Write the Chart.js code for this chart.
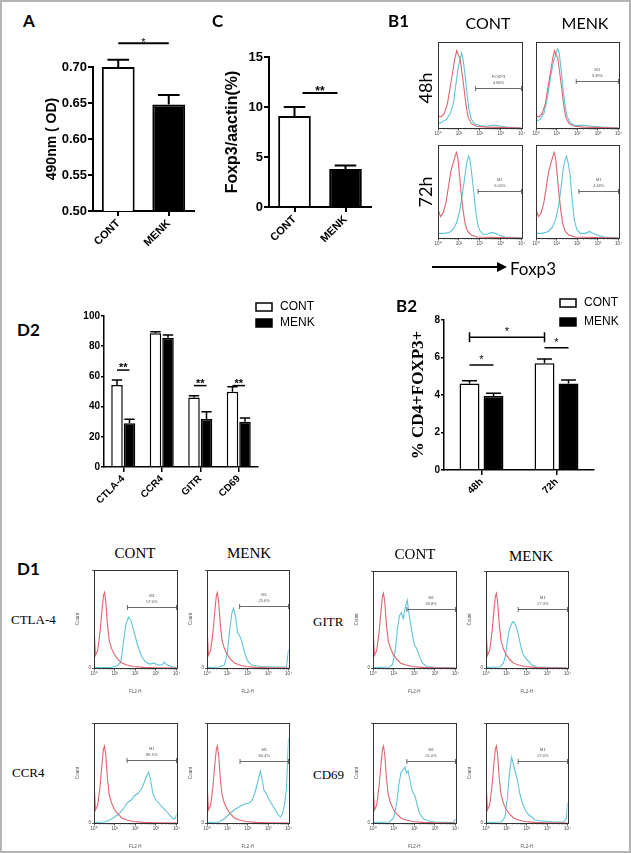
<!DOCTYPE html>
<html>
<head>
<meta charset="utf-8">
<script src="https://cdn.jsdelivr.net/npm/chart.js@4.4.1/dist/chart.umd.min.js"></script>
<style>
  body { margin: 0; background: #fff; }
  #figure { position: relative; width: 631px; height: 853px; overflow: hidden; background: #fff; }
  #frame { position: absolute; left: 0; top: 0; width: 627px; height: 849px; border: 2px solid #b4b4b4; }
  canvas { position: absolute; }
  .txt { position: absolute; white-space: nowrap; color: #000; line-height: 1; }
  .arrow-line { position: absolute; left: 432px; top: 266px; width: 66px; height: 2px; background: #000; }
  .arrow-head { position: absolute; left: 497px; top: 262px; width: 0; height: 0;
    border-top: 5px solid transparent; border-bottom: 5px solid transparent; border-left: 10px solid #000; }
</style>
</head>
<body>
<div id="figure"><div id="frame"></div><div class="arrow-line"></div><div class="arrow-head"></div></div>
<script>
//********************************************************************************
/// Data
//********************************************************************************
// A - 490nm OD
const groupLabels = ['CONT', 'MENK'];
const odMeans = [0.700, 0.648];
const odErrors = [0.010, 0.013];

// C - Foxp3/actin
const foxp3Means = [9.1, 3.8];
const foxp3Errors = [0.9, 0.35];

// B2 - % CD4+FOXP3+
const timeLabels = ['48h', '72h'];
const tregCont = [4.62, 5.69];
const tregContErr = [0.14, 0.23];
const tregMenk = [3.95, 4.62];
const tregMenkErr = [0.14, 0.18];

// D2 - surface markers
const markerLabels = ['CTLA-4', 'CCR4', 'GITR', 'CD69'];
const markerCont = [54.3, 88.5, 46.1, 49.9];
const markerContErr = [3.3, 1.1, 1.1, 3.3];
const markerMenk = [28.9, 85.6, 31.8, 30.0];
const markerMenkErr = [2.7, 1.8, 4.8, 2.4];

// histogram x ticks (log decades)
const logTickLabels = ['10\u2070', '10\u00b9', '10\u00b2', '10\u00b3', '10\u2074'];

// B1 histograms: [decade, fraction of box height]
const isotype48h = [[0,0],[0,0.98],[0.02,0.14],[0.15,0.13],[0.3,0.17],[0.45,0.28],[0.6,0.5],[0.72,0.68],[0.82,0.82],[0.9,0.9],[0.98,0.84],[1.05,0.82],[1.15,0.64],[1.25,0.45],[1.35,0.25],[1.45,0.12],[1.6,0.05],[1.85,0.02],[2.3,0.01],[4,0]];
const foxp3Cont48h = [[0,0.05],[0.2,0.07],[0.4,0.1],[0.6,0.17],[0.75,0.3],[0.88,0.55],[0.98,0.72],[1.08,0.82],[1.13,0.87],[1.2,0.8],[1.28,0.65],[1.38,0.42],[1.48,0.22],[1.6,0.1],[1.75,0.05],[2.0,0.03],[2.3,0.02],[2.6,0.03],[2.8,0.03],[3.0,0.02],[3.3,0.01],[3.6,0.005],[4,0]];
const foxp3Menk48h = [[0,0.08],[0.2,0.1],[0.4,0.18],[0.55,0.35],[0.7,0.58],[0.85,0.78],[0.95,0.85],[1.05,0.92],[1.12,0.88],[1.2,0.72],[1.3,0.48],[1.4,0.28],[1.5,0.14],[1.65,0.06],[1.9,0.03],[2.3,0.03],[2.7,0.02],[3.2,0.01],[4,0]];
const isotype72h = [[0,0],[0,0.97],[0.03,0.3],[0.12,0.23],[0.25,0.27],[0.38,0.38],[0.5,0.55],[0.62,0.72],[0.72,0.8],[0.82,0.88],[0.88,0.92],[0.95,0.86],[1.02,0.7],[1.1,0.5],[1.2,0.3],[1.3,0.15],[1.42,0.07],[1.6,0.03],[1.9,0.01],[4,0]];
const foxp3Cont72h = [[0,0.05],[0.3,0.05],[0.55,0.06],[0.75,0.1],[0.9,0.17],[1.05,0.3],[1.15,0.45],[1.28,0.65],[1.38,0.82],[1.47,0.88],[1.52,0.85],[1.6,0.72],[1.7,0.52],[1.8,0.3],[1.9,0.15],[2.0,0.08],[2.15,0.04],[2.35,0.04],[2.55,0.06],[2.75,0.05],[2.95,0.03],[3.2,0.01],[4,0]];
const foxp3Menk72h = [[0,0.05],[0.3,0.05],[0.6,0.07],[0.8,0.12],[0.95,0.2],[1.1,0.35],[1.22,0.55],[1.32,0.75],[1.42,0.85],[1.48,0.88],[1.55,0.82],[1.65,0.68],[1.75,0.42],[1.85,0.2],[1.98,0.09],[2.15,0.05],[2.4,0.05],[2.6,0.07],[2.75,0.05],[3,0.03],[3.3,0.01],[4,0]];

// B1 gates: [start decade, height, name, % positive]
const gateCont48h = [1.8, 0.47, 'FOXP3', '4.86%'];
const gateMenk48h = [1.95, 0.55, 'M1', '3.39%'];
const gateCont72h = [1.92, 0.51, 'M1', '6.00%'];
const gateMenk72h = [2.08, 0.51, 'M1', '4.64%'];

// D1 histograms
const d1Isotype = [[0,0],[0,0.42],[0.07,0.13],[0.18,0.18],[0.3,0.38],[0.4,0.62],[0.46,0.74],[0.51,0.77],[0.57,0.68],[0.65,0.45],[0.74,0.28],[0.85,0.2],[0.98,0.14],[1.15,0.09],[1.35,0.05],[1.6,0.03],[1.9,0.015],[2.4,0.006],[3,0.003],[4,0]];
const ctla4Cont = [[0,0.005],[0.8,0.005],[1.1,0.02],[1.3,0.06],[1.42,0.25],[1.55,0.45],[1.68,0.52],[1.8,0.48],[1.95,0.36],[2.1,0.24],[2.3,0.12],[2.5,0.06],[2.7,0.04],[2.9,0.05],[3.1,0.03],[3.3,0.03],[3.4,0.06],[3.55,0.03],[3.8,0.01],[4,0.005]];
const ctla4Menk = [[0,0.005],[0.6,0.01],[0.85,0.03],[1.0,0.15],[1.12,0.4],[1.22,0.56],[1.3,0.61],[1.4,0.52],[1.5,0.36],[1.58,0.34],[1.7,0.28],[1.85,0.15],[2.0,0.07],[2.2,0.03],[2.6,0.015],[3.2,0.01],[3.9,0.01],[4,0.19]];
const gitrCont = [[0,0.005],[0.8,0.01],[0.95,0.04],[1.08,0.18],[1.18,0.4],[1.28,0.54],[1.37,0.57],[1.47,0.51],[1.56,0.62],[1.66,0.7],[1.75,0.55],[1.88,0.38],[2.0,0.24],[2.12,0.2],[2.25,0.12],[2.4,0.05],[2.6,0.015],[3,0.005],[4,0]];
const gitrMenk = [[0,0.005],[0.7,0.01],[0.85,0.05],[0.95,0.12],[1.05,0.28],[1.15,0.4],[1.27,0.46],[1.35,0.48],[1.45,0.44],[1.55,0.38],[1.68,0.25],[1.8,0.15],[1.95,0.1],[2.08,0.07],[2.25,0.03],[2.5,0.01],[4,0]];
const ccr4Cont = [[0,0.005],[0.5,0.01],[0.76,0.03],[1.0,0.06],[1.25,0.1],[1.45,0.15],[1.6,0.2],[1.8,0.23],[1.95,0.27],[2.15,0.3],[2.3,0.34],[2.42,0.4],[2.55,0.47],[2.65,0.51],[2.75,0.42],[2.85,0.3],[2.97,0.24],[3.1,0.21],[3.3,0.16],[3.5,0.12],[3.7,0.07],[3.85,0.04],[3.95,0.05],[4,0.09]];
const ccr4Menk = [[0,0.005],[0.6,0.01],[0.9,0.05],[1.15,0.1],[1.4,0.14],[1.65,0.17],[1.85,0.19],[2.05,0.2],[2.2,0.22],[2.35,0.3],[2.5,0.42],[2.62,0.52],[2.72,0.42],[2.8,0.32],[2.9,0.3],[3.0,0.25],[3.15,0.2],[3.35,0.13],[3.5,0.08],[3.6,0.06],[3.7,0.09],[3.8,0.18],[3.9,0.35],[4,0.85]];
const cd69Cont = [[0,0.005],[0.8,0.01],[1.0,0.05],[1.15,0.2],[1.25,0.38],[1.35,0.5],[1.45,0.53],[1.55,0.56],[1.62,0.5],[1.7,0.52],[1.8,0.42],[1.9,0.32],[2.02,0.28],[2.12,0.2],[2.25,0.1],[2.45,0.04],[2.7,0.02],[3,0.01],[3.9,0.005],[4,0.04]];
const cd69Menk = [[0,0.005],[0.75,0.01],[0.93,0.06],[1.05,0.25],[1.15,0.5],[1.26,0.66],[1.35,0.58],[1.45,0.5],[1.55,0.42],[1.65,0.3],[1.78,0.2],[1.95,0.12],[2.1,0.08],[2.25,0.06],[2.4,0.03],[2.7,0.02],[2.9,0.02],[3.3,0.01],[3.8,0.01],[3.95,0.05],[4,0.2]];

// D1 gates
const gateCtla4Cont = [1.62, 0.62, 'M1', '57.0%'];
const gateCtla4Menk = [1.6, 0.63, 'M1', '25.6%'];
const gateGitrCont = [1.64, 0.61, 'M1', '49.8%'];
const gateGitrMenk = [1.58, 0.61, 'M1', '27.3%'];
const gateCcr4Cont = [1.6, 0.63, 'M1', '88.5%'];
const gateCcr4Menk = [1.62, 0.62, 'M1', '84.4%'];
const gateCd69Cont = [1.64, 0.62, 'M1', '51.0%'];
const gateCd69Menk = [1.58, 0.62, 'M1', '27.0%'];

//********************************************************************************
/// Helpers
//********************************************************************************
const SANS = "'Liberation Sans', Arial, sans-serif";
const SERIF = "'Liberation Serif', 'Times New Roman', serif";
const CALI = "Lato, 'Liberation Sans', sans-serif";
const RED = '#e0646f';
const CYAN = '#5ec4d9';

Chart.defaults.font.family = SANS;
Chart.defaults.color = '#000';

const figure = document.getElementById('figure');

function addCanvas(box) {
    const c = document.createElement('canvas');
    const w = box[2] - box[0], h = box[3] - box[1];
    c.width = w; c.height = h;
    c.style.left = box[0] + 'px'; c.style.top = box[1] + 'px';
    c.style.width = w + 'px'; c.style.height = h + 'px';
    figure.appendChild(c);
    return c;
}

function addText(str, x, y, font, align, rotate) {
    const d = document.createElement('div');
    d.className = 'txt';
    d.textContent = str;
    d.style.font = font;
    d.style.left = x + 'px';
    d.style.top = y + 'px';
    const tx = align === 'center' ? '-50%' : '0';
    d.style.transform = `translate(${tx}, -50%)` + (rotate ? ` rotate(${rotate}deg)` : '');
    figure.appendChild(d);
}

// canvas box and plot rect, both [x0, y0, x1, y1] in page px
function pin(box, plot) {
    return {
        padding: { left: 0, top: plot[1] - box[1], right: box[2] - plot[2], bottom: 0 },
        yWidth: plot[0] - box[0],
        xHeight: box[3] - plot[3]
    };
}

function errorBars(lineWidth, capRatio) {
    return {
        id: 'errorBars',
        afterDatasetsDraw(chart) {
            const ctx = chart.ctx, y = chart.scales.y;
            chart.data.datasets.forEach((ds, i) => {
                if (!ds.errors) return;
                chart.getDatasetMeta(i).data.forEach((bar, j) => {
                    const top = y.getPixelForValue(ds.data[j] + ds.errors[j]);
                    const half = bar.width * capRatio / 2;
                    ctx.save();
                    ctx.strokeStyle = '#000';
                    ctx.lineWidth = lineWidth;
                    ctx.beginPath();
                    ctx.moveTo(bar.x, bar.y); ctx.lineTo(bar.x, top);
                    ctx.moveTo(bar.x - half, top); ctx.lineTo(bar.x + half, top);
                    ctx.stroke();
                    ctx.restore();
                });
            });
        }
    };
}

function sigMarks(marks, font, lineWidth, lift) {
    return {
        id: 'sigMarks',
        afterDraw(chart) {
            const ctx = chart.ctx, y = chart.scales.y;
            marks.forEach(m => {
                const a = chart.getDatasetMeta(m.from[0]).data[m.from[1]];
                const b = chart.getDatasetMeta(m.to[0]).data[m.to[1]];
                const inset = m.inset || 0;
                const x0 = a.x + inset, x1 = b.x - inset;
                const yy = y.getPixelForValue(m.y);
                ctx.save();
                ctx.strokeStyle = '#000';
                ctx.lineWidth = lineWidth;
                ctx.beginPath();
                ctx.moveTo(x0, yy); ctx.lineTo(x1, yy);
                if (m.caps) {
                    ctx.moveTo(x0, yy - 5); ctx.lineTo(x0, yy + 5);
                    ctx.moveTo(x1, yy - 5); ctx.lineTo(x1, yy + 5);
                }
                ctx.stroke();
                ctx.fillStyle = '#000';
                ctx.font = font;
                ctx.textAlign = 'center';
                ctx.textBaseline = 'alphabetic';
                ctx.fillText(m.text, (x0 + x1) / 2, yy + lift);
                ctx.restore();
            });
        }
    };
}

function boxLegend(x, y, step) {
    return {
        id: 'boxLegend',
        afterDraw(chart) {
            const ctx = chart.ctx;
            chart.data.datasets.forEach((ds, i) => {
                const top = y + i * step;
                ctx.save();
                ctx.fillStyle = ds.backgroundColor;
                ctx.fillRect(x, top, 16, 8);
                ctx.strokeStyle = '#000';
                ctx.lineWidth = 1.5;
                ctx.strokeRect(x, top, 16, 8);
                ctx.fillStyle = '#000';
                ctx.font = `12px ${SANS}`;
                ctx.textBaseline = 'middle';
                ctx.fillText(ds.label, x + 24, top + 4);
                ctx.restore();
            });
        }
    };
}

function barPanel(box, plot, cfg) {
    const p = pin(box, plot);
    const plugins = [errorBars(cfg.lineWidth, cfg.capRatio), sigMarks(cfg.marks, cfg.starFont, cfg.lineWidth, cfg.starLift)];
    if (cfg.legend) plugins.push(boxLegend(cfg.legend[0] - box[0], cfg.legend[1] - box[1], cfg.legend[2]));
    return new Chart(addCanvas(box), {
        type: 'bar',
        data: { labels: cfg.labels, datasets: cfg.datasets },
        plugins: plugins,
        options: {
            responsive: false,
            animation: false,
            layout: { padding: p.padding },
            plugins: { legend: { display: false }, tooltip: { enabled: false } },
            scales: {
                x: {
                    grid: { offset: false, drawOnChartArea: false, tickLength: 5, color: '#000', lineWidth: cfg.lineWidth },
                    border: { color: '#000', width: cfg.lineWidth },
                    ticks: { font: cfg.xFont, color: '#000', minRotation: 45, maxRotation: 45, autoSkip: false, padding: 1 },
                    afterFit: s => { s.height = p.xHeight; }
                },
                y: {
                    min: cfg.yMin, max: cfg.yMax,
                    grid: { drawOnChartArea: false, tickLength: cfg.tickLength, color: '#000', lineWidth: cfg.lineWidth },
                    border: { color: '#000', width: cfg.lineWidth },
                    ticks: { stepSize: cfg.yStep, font: cfg.yFont, color: '#000', padding: 1, callback: cfg.yFormat },
                    title: cfg.yTitle || { display: false },
                    afterFit: s => { s.width = p.yWidth; }
                }
            }
        }
    });
}

function histFrame(gate) {
    return {
        id: 'histFrame',
        afterDraw(chart) {
            const { ctx, chartArea: a, scales: { x, y } } = chart;
            ctx.save();
            ctx.strokeStyle = '#333';
            ctx.lineWidth = 1;
            ctx.strokeRect(Math.round(a.left) + 0.5, Math.round(a.top) + 0.5, Math.round(a.width), Math.round(a.height));
            // minor log ticks under the axis
            ctx.lineWidth = 0.6;
            ctx.beginPath();
            for (let d = 0; d < 4; d++) {
                for (let k = 2; k < 10; k++) {
                    const px = x.getPixelForValue(d + Math.log10(k));
                    ctx.moveTo(px, a.bottom); ctx.lineTo(px, a.bottom + 1.5);
                }
            }
            ctx.stroke();
            // gate marker
            const gx0 = x.getPixelForValue(gate[0]);
            const gx1 = x.getPixelForValue(4);
            const gy = Math.round(y.getPixelForValue(gate[1])) + 0.5;
            ctx.strokeStyle = '#444';
            ctx.lineWidth = 0.8;
            ctx.beginPath();
            ctx.moveTo(gx0, gy); ctx.lineTo(gx1, gy);
            ctx.moveTo(gx0, gy - 2.5); ctx.lineTo(gx0, gy + 2.5);
            ctx.moveTo(gx1, gy - 2.5); ctx.lineTo(gx1, gy + 2.5);
            ctx.stroke();
            ctx.fillStyle = '#555';
            ctx.font = `4px ${SANS}`;
            ctx.textAlign = 'center';
            ctx.fillText(gate[2], (gx0 + gx1) / 2, gy - 11);
            ctx.fillText(gate[3], (gx0 + gx1) / 2, gy - 5);
            ctx.restore();
        }
    };
}

function histPanel(plot, isotype, stained, gate, flow) {
    // flow = true for D1 style (Count / FL2-H titles)
    const m = flow ? [22, 4, 4, 26] : [6, 4, 4, 14];
    const box = [plot[0] - m[0], plot[1] - m[1], plot[2] + m[2], plot[3] + m[3]];
    const p = pin(box, plot);
    const line = color => ({ borderColor: color, borderWidth: 1.1, pointRadius: 0, tension: 0, fill: false });
    return new Chart(addCanvas(box), {
        type: 'line',
        data: {
            datasets: [
                Object.assign({ data: isotype }, line(RED)),
                Object.assign({ data: stained }, line(CYAN))
            ]
        },
        plugins: [histFrame(gate)],
        options: {
            responsive: false,
            animation: false,
            layout: { padding: p.padding },
            plugins: { legend: { display: false }, tooltip: { enabled: false } },
            scales: {
                x: {
                    type: 'linear', min: 0, max: 4,
                    grid: { drawOnChartArea: false, tickLength: 2.5, color: '#333', lineWidth: 0.8 },
                    border: { color: '#333' },
                    ticks: { stepSize: 1, font: { size: 4.5 }, color: '#444', padding: 1, callback: v => logTickLabels[v] },
                    title: { display: flow, text: 'FL2-H', font: { size: 4.5 }, color: '#555', padding: 0 },
                    afterFit: s => { s.height = p.xHeight; }
                },
                y: {
                    min: 0, max: 1,
                    grid: { display: flow, drawOnChartArea: false, tickLength: 2, color: '#333', lineWidth: 0.8 },
                    border: { color: '#333' },
                    ticks: { display: flow, stepSize: 1, font: { size: 4.5 }, color: '#444', padding: 1, callback: v => (v === 0 ? '0' : '') },
                    title: { display: flow, text: 'Count', font: { size: 4.5 }, color: '#555', padding: { top: 3 } },
                    afterFit: s => { s.width = p.yWidth; }
                }
            }
        }
    });
}

//********************************************************************************
/// Bar panels
//********************************************************************************
const boldFont = size => ({ family: SANS, size: size, weight: 'bold' });

// A
barPanel([40, 25, 205, 255], [93, 67, 194, 211], {
    labels: groupLabels,
    datasets: [{ label: 'OD', data: odMeans, errors: odErrors, backgroundColor: ['#fff', '#000'], borderColor: '#000',
        borderWidth: 2, barPercentage: 0.65, categoryPercentage: 1 }],
    yMin: 0.5, yMax: 0.7, yStep: 0.05, yFormat: v => v.toFixed(2),
    yFont: boldFont(13), xFont: boldFont(11), tickLength: 5, lineWidth: 2, capRatio: 0.66,
    yTitle: { display: true, text: '490nm ( OD)', font: boldFont(14), color: '#000', padding: { top: 4 } },
    marks: [{ from: [0, 0], to: [0, 1], y: 0.733, text: '*' }],
    starFont: `11px ${SANS}`, starLift: 3
});

// C
barPanel([215, 25, 380, 255], [269, 57, 371, 207], {
    labels: groupLabels,
    datasets: [{ label: 'Foxp3', data: foxp3Means, errors: foxp3Errors, backgroundColor: ['#fff', '#000'], borderColor: '#000',
        borderWidth: 2, barPercentage: 0.64, categoryPercentage: 1 }],
    yMin: 0, yMax: 15, yStep: 5, yFormat: v => v,
    yFont: boldFont(13), xFont: boldFont(11), tickLength: 5, lineWidth: 2, capRatio: 0.66,
    yTitle: { display: true, text: 'Foxp3/aactin(%)', font: boldFont(16), color: '#000', padding: { top: 8 } },
    marks: [{ from: [0, 0], to: [0, 1], y: 11.4, text: '**', inset: 8 }],
    starFont: `bold 12px ${SANS}`, starLift: 2
});

// D2
barPanel([40, 300, 320, 515], [104, 316, 258, 467], {
    labels: markerLabels,
    datasets: [
        { label: 'CONT', data: markerCont, errors: markerContErr, backgroundColor: '#fff', borderColor: '#000',
            borderWidth: 1.5, barPercentage: 0.92, categoryPercentage: 0.65 },
        { label: 'MENK', data: markerMenk, errors: markerMenkErr, backgroundColor: '#000', borderColor: '#000',
            borderWidth: 1.5, barPercentage: 0.92, categoryPercentage: 0.65 }
    ],
    yMin: 0, yMax: 100, yStep: 20, yFormat: v => v,
    yFont: boldFont(10), xFont: boldFont(10), tickLength: 3, lineWidth: 1.5, capRatio: 0.9,
    marks: [
        { from: [0, 0], to: [1, 0], y: 64.2, text: '**' },
        { from: [0, 2], to: [1, 2], y: 53.9, text: '**' },
        { from: [0, 3], to: [1, 3], y: 53.9, text: '**' }
    ],
    starFont: `bold 11px ${SANS}`, starLift: 1,
    legend: [256, 303, 16]
});

// B2
barPanel([400, 290, 625, 505], [444, 320, 594, 470], {
    labels: timeLabels,
    datasets: [
        { label: 'CONT', data: tregCont, errors: tregContErr, backgroundColor: '#fff', borderColor: '#000',
            borderWidth: 1.5, barPercentage: 0.83, categoryPercentage: 0.64 },
        { label: 'MENK', data: tregMenk, errors: tregMenkErr, backgroundColor: '#000', borderColor: '#000',
            borderWidth: 1.5, barPercentage: 0.83, categoryPercentage: 0.64 }
    ],
    yMin: 0, yMax: 8, yStep: 2, yFormat: v => v,
    yFont: boldFont(10), xFont: boldFont(10), tickLength: 3, lineWidth: 1.5, capRatio: 0.75,
    yTitle: { display: true, text: '% CD4+FOXP3+', font: { family: SERIF, size: 17, weight: 'bold' }, color: '#000', padding: { top: 8 } },
    marks: [
        { from: [0, 0], to: [0, 1], y: 7.08, text: '*', caps: true },
        { from: [0, 0], to: [1, 0], y: 5.6, text: '*' },
        { from: [0, 1], to: [1, 1], y: 6.52, text: '*' }
    ],
    starFont: `11px ${SANS}`, starLift: -2,
    legend: [560, 299, 19]
});

//********************************************************************************
/// Histogram panels
//********************************************************************************
// B1
histPanel([438, 42, 522, 128], isotype48h, foxp3Cont48h, gateCont48h, false);
histPanel([536, 42, 619, 128], isotype48h, foxp3Menk48h, gateMenk48h, false);
histPanel([438, 145, 522, 238], isotype72h, foxp3Cont72h, gateCont72h, false);
histPanel([536, 145, 619, 238], isotype72h, foxp3Menk72h, gateMenk72h, false);

// D1
histPanel([94, 570, 177, 668], d1Isotype, ctla4Cont, gateCtla4Cont, true);
histPanel([207, 570, 289, 668], d1Isotype, ctla4Menk, gateCtla4Menk, true);
histPanel([373, 571, 456, 668], d1Isotype, gitrCont, gateGitrCont, true);
histPanel([486, 571, 568, 668], d1Isotype, gitrMenk, gateGitrMenk, true);
histPanel([94, 723, 177, 823], d1Isotype, ccr4Cont, gateCcr4Cont, true);
histPanel([207, 723, 289, 823], d1Isotype, ccr4Menk, gateCcr4Menk, true);
histPanel([373, 723, 456, 823], d1Isotype, cd69Cont, gateCd69Cont, true);
histPanel([486, 723, 568, 823], d1Isotype, cd69Menk, gateCd69Menk, true);

//********************************************************************************
/// Panel letters and labels
//********************************************************************************
const panelFont = `bold 17px ${CALI}`;
addText('A', 23, 20, panelFont);
addText('C', 212, 20, panelFont);
addText('B1', 388, 20, panelFont);
addText('D2', 17, 329, panelFont);
addText('B2', 396, 305, panelFont);
addText('D1', 17, 568, panelFont);

addText('CONT', 488, 22, `16px ${CALI}`, 'center');
addText('MENK', 585, 22, `16px ${CALI}`, 'center');
addText('48h', 425, 88, `18px ${CALI}`, 'center', -90);
addText('72h', 425, 192, `18px ${CALI}`, 'center', -90);
addText('Foxp3', 510, 268, `17px ${CALI}`);

addText('CONT', 135, 553, `15px ${SERIF}`, 'center');
addText('MENK', 249, 553, `15px ${SERIF}`, 'center');
addText('CONT', 415, 554, `15px ${SERIF}`, 'center');
addText('MENK', 531, 556, `15px ${SERIF}`, 'center');
addText('CTLA-4', 11, 620, `13px ${SERIF}`);
addText('GITR', 313, 622, `13px ${SERIF}`);
addText('CCR4', 12, 773, `13px ${SERIF}`);
addText('CD69', 313, 775, `13px ${SERIF}`);
</script>
</body>
</html>
